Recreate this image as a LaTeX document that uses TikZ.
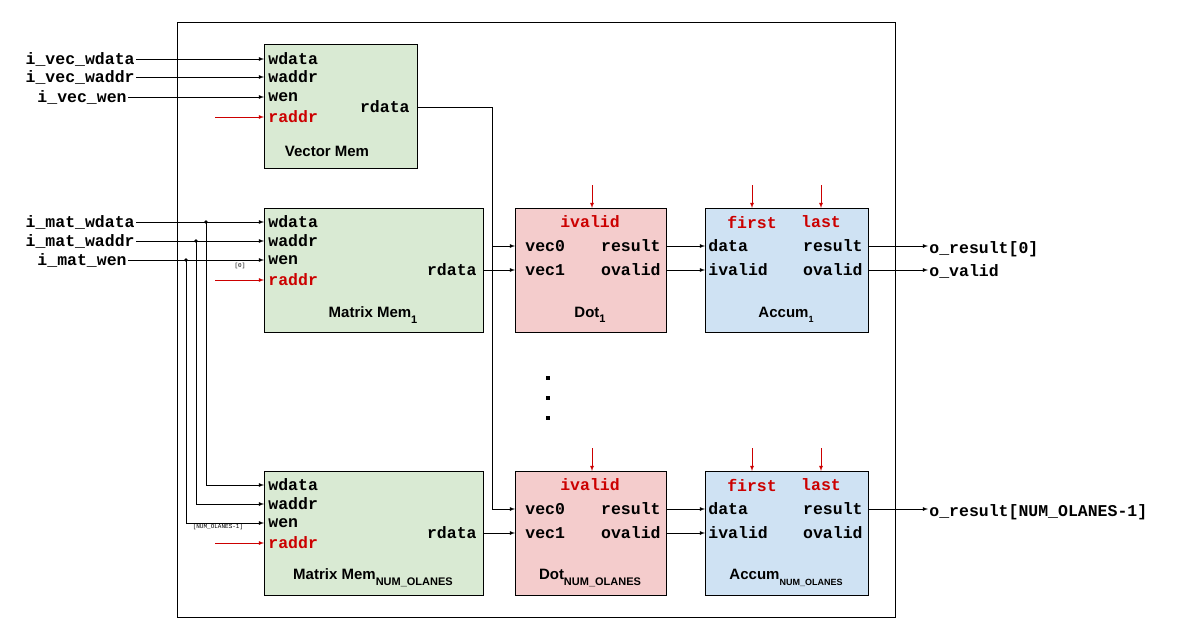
\documentclass[tikz,border=0pt]{standalone}
\usepackage{fontspec}
\setmainfont{Liberation Sans}
\setmonofont{Liberation Mono}
\usepackage{xcolor}
\usetikzlibrary{arrows, positioning}
\definecolor{memgreen}{HTML}{D9EAD3}
\definecolor{dotred}{HTML}{F4CCCC}
\definecolor{accblue}{HTML}{CFE2F3}
\definecolor{sigred}{HTML}{CC0000}
\newcommand{\subtag}[2]{\raisebox{-0.7ex}{\fontsize{#1}{#1}\selectfont\bfseries #2}}

\begin{document}
\begin{tikzpicture}[x=1pt, y=-1pt, >=latex, thick,
    blk/.style={draw, line width=0.8pt, anchor=north west, inner sep=0pt},
    port/.style={font=\ttfamily\bfseries\fontsize{16.5}{18}\selectfont, inner sep=1pt},
    ctl/.style={port, text=sigred},
    title/.style={font=\bfseries\fontsize{15}{17}\selectfont},
    tiny/.style={font=\ttfamily\fontsize{6}{7}\selectfont, inner sep=0pt},
    wire/.style={->, line width=0.8pt},
    rwire/.style={->, line width=0.8pt, sigred}]
    \useasboundingbox (0,0) rectangle (1197,634);
    \draw[line width=0.8pt] (177,22) rectangle (895,617);

    % vector memory
    \node[blk, fill=memgreen, minimum width=153pt, minimum height=124pt] (vm) at (264,44) {};
    \node[port, anchor=west] (vmwdata) at (267,59) {wdata};
    \node[port, anchor=west] (vmwaddr) at (267,77) {waddr};
    \node[port, anchor=west] (vmwen) at (267,97) {wen};
    \node[ctl, anchor=west] (vmraddr) at (267,117) {raddr};
    \node[port, anchor=east] (vmrdata) at (411,107) {rdata};
    \node[title] at (327,151) {Vector Mem};

    % matrix memories, dot units, accumulators
    \foreach \n/\y/\s in {1/208/1, N/471/NUM\_OLANES} {
        \node[blk, fill=memgreen, minimum width=219pt, minimum height=124pt] (mm\n) at (264,\y) {};
        \node[port, anchor=west] (mm\n wdata) at (267,\y+14) {wdata};
        \node[port, anchor=west] (mm\n waddr) at (267,\y+33) {waddr};
        \node[port, anchor=west] (mm\n wen) at (267,\y+52) {wen};
        \node[ctl, anchor=west] (mm\n raddr) at (267,\y+72) {raddr};
        \node[port, anchor=east] (mm\n rdata) at (478,\y+62) {rdata};
        \node[title] at (373,\y+107) {Matrix Mem\subtag{11}{\s}};

        \node[blk, fill=dotred, minimum width=151pt, minimum height=124pt] (dp\n) at (515,\y) {};
        \node[ctl] (dp\n ivalid) at (590,\y+14) {ivalid};
        \node[port, anchor=west] (dp\n vec0) at (524,\y+38) {vec0};
        \node[port, anchor=west] (dp\n vec1) at (524,\y+62) {vec1};
        \node[port, anchor=east] (dp\n result) at (662,\y+38) {result};
        \node[port, anchor=east] (dp\n ovalid) at (662,\y+62) {ovalid};
        \node[title] at (590,\y+107) {Dot\subtag{11}{\s}};

        \node[blk, fill=accblue, minimum width=163pt, minimum height=124pt] (ac\n) at (705,\y) {};
        \node[ctl] (ac\n first) at (752,\y+14) {first};
        \node[ctl] (ac\n last) at (821,\y+14) {last};
        \node[port, anchor=west] (ac\n data) at (707,\y+38) {data};
        \node[port, anchor=west] (ac\n ivalid) at (707,\y+62) {ivalid};
        \node[port, anchor=east] (ac\n result) at (864,\y+38) {result};
        \node[port, anchor=east] (ac\n ovalid) at (864,\y+62) {ovalid};
        \node[title] at (786,\y+107) {Accum\subtag{9}{\s}};

        \coordinate (dpc\n) at (592,\y-23);
        \coordinate (acf\n) at (752,\y-23);
        \coordinate (acl\n) at (821,\y-23);
        \draw[rwire] (dpc\n) -- (dpc\n |- dp\n.north);
        \draw[rwire] (acf\n) -- (acf\n |- ac\n.north);
        \draw[rwire] (acl\n) -- (acl\n |- ac\n.north);
        \coordinate (mrd\n) at (215,\y+72);
        \draw[rwire] (mrd\n) -- (mm\n.west |- mm\n raddr);
        \draw[wire] (mm\n.east |- mm\n rdata) -- (dp\n.west |- dp\n vec1);
        \draw[wire] (dp\n.east |- dp\n result) -- (ac\n.west |- ac\n data);
        \draw[wire] (dp\n.east |- dp\n ovalid) -- (ac\n.west |- ac\n ivalid);
    }

    % vector inputs
    \node[port, anchor=east] (ivwdata) at (136,59) {i\_vec\_wdata};
    \node[port, anchor=east] (ivwaddr) at (136,77) {i\_vec\_waddr};
    \node[port, anchor=east] (ivwen) at (128,97) {i\_vec\_wen};
    \draw[wire] (ivwdata) -- (vm.west |- vmwdata);
    \draw[wire] (ivwaddr) -- (vm.west |- vmwaddr);
    \draw[wire] (ivwen) -- (vm.west |- vmwen);
    \coordinate (vrd) at (215,117);
    \draw[rwire] (vrd) -- (vm.west |- vmraddr);

    % matrix inputs
    \node[port, anchor=east] (imwdata) at (136,222) {i\_mat\_wdata};
    \node[port, anchor=east] (imwaddr) at (136,241) {i\_mat\_waddr};
    \node[port, anchor=east] (imwen) at (128,260) {i\_mat\_wen};
    \draw[wire] (imwdata) -- (mm1.west |- mm1wdata);
    \draw[wire] (imwaddr) -- (mm1.west |- mm1waddr);
    \draw[wire] (imwen) -- (mm1.west |- mm1wen);
    \coordinate (tw) at (206,222);
    \coordinate (ta) at (196,241);
    \coordinate (te) at (186,260);
    \fill (tw) circle (1.8pt) (ta) circle (1.8pt) (te) circle (1.8pt);
    \draw[wire] (tw) |- (mmN.west |- mmNwdata);
    \draw[wire] (ta) |- (mmN.west |- mmNwaddr);
    \draw[wire] (te) |- (mmN.west |- mmNwen);
    \node[tiny] at (240,266) {[0]};
    \node[tiny] at (218,527) {[NUM\_OLANES-1]};

    % vector broadcast
    \coordinate (vbus) at (492,107);
    \draw[line width=0.8pt] (vm.east |- vmrdata) -- (vbus);
    \draw[wire] (vbus) |- (dpN.west |- dpNvec0);
    \draw[wire] (vbus |- dp1vec0) -- (dp1.west |- dp1vec0);

    % outputs
    \node[port, anchor=west] (ores) at (928,249) {o\_result[0]};
    \node[port, anchor=west] (oval) at (928,271) {o\_valid};
    \node[port, anchor=west] (oresN) at (928,512) {o\_result[NUM\_OLANES-1]};
    \draw[wire] (ac1.east |- ac1result) -- (ores.west |- ac1result);
    \draw[wire] (ac1.east |- ac1ovalid) -- (oval.west |- ac1ovalid);
    \draw[wire] (acN.east |- acNresult) -- (oresN.west |- acNresult);

    % ellipsis
    \foreach \y in {376,396,416} \fill (546,\y) rectangle ++(4,4);
\end{tikzpicture}
\end{document}
